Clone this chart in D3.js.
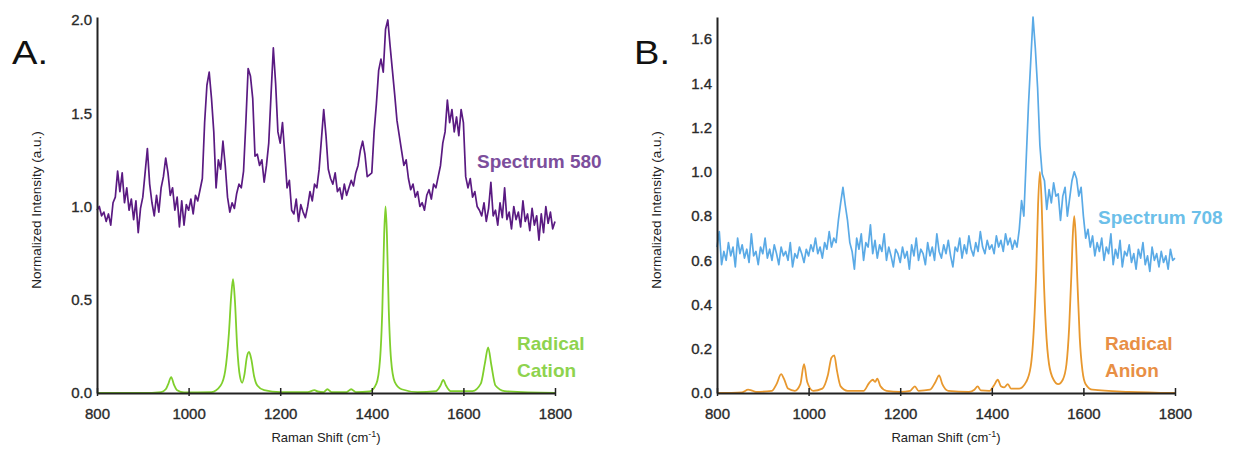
<!DOCTYPE html>
<html>
<head>
<meta charset="utf-8">
<script src="https://cdn.jsdelivr.net/npm/d3@7"></script>
<style>
body{margin:0;background:#fff;}
svg text{font-family:"Liberation Sans",Arial,sans-serif;}
</style>
</head>
<body>
<svg id="chart" width="1242" height="452"></svg>
<script>
// measured spectra, 800-1800 cm-1 every 5 cm-1
var spec580 = [
 0.98,1.00,0.95,0.97,0.92,0.96,0.90,1.02,1.05,1.19,1.08,1.18,1.02,1.10,0.98,1.04,0.93,1.03,0.86,0.99,
 1.05,1.18,1.31,1.12,1.02,0.95,1.06,0.97,1.10,1.16,1.26,1.18,1.06,1.10,0.98,1.05,0.89,1.03,0.90,1.01,
 0.98,1.04,0.96,1.06,1.03,1.09,1.15,1.45,1.65,1.72,1.58,1.40,1.10,1.25,1.20,1.35,1.22,1.05,0.97,1.02,
 0.99,1.07,1.12,1.10,1.19,1.45,1.74,1.70,1.58,1.27,1.28,1.22,1.25,1.13,1.22,1.34,1.60,1.85,1.66,1.40,
 1.34,1.45,1.28,1.10,1.14,0.98,0.96,1.04,0.92,1.01,0.97,0.94,1.00,1.08,1.03,1.12,1.10,1.20,1.36,1.52,
 1.38,1.20,1.15,1.12,1.18,1.08,1.10,1.04,1.12,1.06,1.10,1.14,1.11,1.18,1.22,1.30,1.35,1.28,1.16,1.17,
 1.18,1.40,1.55,1.73,1.79,1.72,1.95,2.00,1.86,1.73,1.60,1.46,1.38,1.30,1.22,1.25,1.15,1.09,1.12,1.05,
 1.08,1.00,1.02,0.98,1.06,1.09,1.04,1.12,1.10,1.16,1.22,1.34,1.40,1.57,1.45,1.52,1.40,1.48,1.38,1.52,
 1.45,1.16,1.10,1.15,1.05,1.08,1.00,0.98,0.95,1.02,0.92,0.99,1.13,0.95,0.98,0.90,1.02,0.94,1.10,0.93,
 0.97,0.88,1.00,0.93,0.97,0.89,1.03,0.92,0.96,0.87,0.99,0.90,0.95,0.82,0.96,0.86,1.00,0.91,0.97,0.88,0.92
];
var spec708 = [
 0.66,0.73,0.58,0.64,0.60,0.68,0.62,0.66,0.57,0.70,0.63,0.67,0.61,0.65,0.59,0.72,0.62,0.64,0.58,0.66,
 0.63,0.70,0.61,0.65,0.60,0.67,0.63,0.58,0.66,0.62,0.64,0.60,0.68,0.57,0.63,0.61,0.66,0.63,0.59,0.65,
 0.62,0.67,0.64,0.70,0.63,0.66,0.61,0.68,0.65,0.73,0.66,0.70,0.68,0.78,0.86,0.93,0.85,0.78,0.68,0.64,
 0.56,0.70,0.65,0.72,0.60,0.68,0.66,0.76,0.63,0.69,0.61,0.67,0.64,0.72,0.60,0.66,0.62,0.57,0.65,0.63,
 0.59,0.66,0.61,0.64,0.56,0.67,0.62,0.70,0.60,0.65,0.63,0.58,0.68,0.62,0.66,0.60,0.72,0.64,0.61,0.67,
 0.63,0.69,0.62,0.57,0.66,0.64,0.70,0.61,0.67,0.63,0.71,0.65,0.62,0.68,0.64,0.73,0.66,0.63,0.69,0.65,
 0.67,0.63,0.71,0.66,0.69,0.64,0.72,0.67,0.70,0.65,0.69,0.66,0.74,0.87,0.80,1.05,1.30,1.50,1.70,1.56,
 1.38,1.12,0.99,0.96,0.83,0.92,0.86,0.95,0.89,0.90,0.78,0.89,0.93,0.80,0.88,0.96,1.00,0.97,0.89,0.93,
 0.80,0.70,0.74,0.66,0.71,0.62,0.68,0.64,0.70,0.60,0.66,0.63,0.72,0.58,0.65,0.61,0.69,0.57,0.64,0.62,
 0.67,0.59,0.63,0.56,0.65,0.61,0.68,0.58,0.62,0.55,0.66,0.60,0.63,0.57,0.64,0.59,0.62,0.56,0.65,0.60,0.61
];
var specShift = d3.range(800, 1801, 5);

// computed reference spectra (read at peak / shoulder points)
var cationShift = [800,900,940,950,955,962,968,975,990,1050,1070,1080,1088,1093,1097,1101,1106,1112,1117,1122,1127,1132,1137,1143,1150,1165,1200,1260,1275,1282,1295,1303,1312,1345,1355,1365,1395,1410,1418,1423,1427,1430,1433,1437,1442,1450,1465,1500,1540,1550,1556,1562,1572,1620,1638,1647,1654,1661,1670,1690,1800];
var cationValue = [0,0,0.005,0.02,0.045,0.085,0.045,0.015,0.003,0.005,0.04,0.12,0.32,0.52,0.61,0.50,0.25,0.09,0.055,0.10,0.19,0.22,0.18,0.09,0.04,0.015,0.005,0.005,0.015,0.008,0.005,0.02,0.005,0.005,0.02,0.005,0.008,0.05,0.18,0.45,0.85,1.0,0.85,0.45,0.18,0.06,0.02,0.005,0.01,0.04,0.07,0.04,0.01,0.01,0.05,0.16,0.245,0.15,0.04,0.01,0];

var anionShift = [800,855,868,875,885,920,930,940,947,955,970,982,990,997,1010,1030,1042,1050,1056,1062,1070,1085,1120,1132,1140,1145,1150,1157,1170,1200,1222,1232,1240,1265,1277,1285,1292,1305,1350,1362,1369,1376,1395,1405,1413,1420,1427,1435,1442,1460,1475,1485,1492,1497,1501,1505,1509,1513,1518,1525,1535,1545,1555,1563,1569,1574,1577,1580,1583,1587,1592,1598,1605,1620,1700,1800];
var anionValue = [0,0.003,0.015,0.012,0.005,0.01,0.04,0.085,0.06,0.02,0.01,0.04,0.13,0.05,0.01,0.02,0.08,0.16,0.17,0.10,0.03,0.01,0.01,0.045,0.06,0.05,0.065,0.03,0.01,0.005,0.01,0.03,0.01,0.015,0.05,0.08,0.04,0.01,0.005,0.015,0.03,0.012,0.01,0.035,0.06,0.03,0.025,0.04,0.02,0.02,0.05,0.12,0.30,0.55,0.85,1.0,0.85,0.55,0.30,0.13,0.06,0.04,0.06,0.13,0.30,0.55,0.72,0.80,0.72,0.50,0.25,0.10,0.04,0.015,0.005,0];

var xTicks = [800,1000,1200,1400,1600,1800];
var yTicksA = [0.0,0.5,1.0,1.5,2.0];
var yTicksB = [0.0,0.2,0.4,0.6,0.8,1.0,1.2,1.4,1.6];

var svg = d3.select("#chart");
var FONT = "'Liberation Sans', Arial, sans-serif";

function zip(xs, ys){
  return xs.map(function(x,i){ return [x, ys[i]]; });
}

function drawPanel(p){
  var x = d3.scaleLinear().domain([800,1800]).range([p.left, p.left + 458]);
  var y = d3.scaleLinear().domain([0, p.ymax]).range([393, 17]);
  var g = svg.append("g");

  var line = d3.line()
    .x(function(d){ return x(d[0]); })
    .y(function(d){ return y(d[1]); });

  g.append("path")
    .datum(zip(specShift, p.spec))
    .attr("fill","none")
    .attr("stroke", p.specColor)
    .attr("stroke-width",1.7)
    .attr("stroke-linejoin","round")
    .attr("d", line);

  g.append("path")
    .datum(zip(p.refShift, p.refValue))
    .attr("fill","none")
    .attr("stroke", p.refColor)
    .attr("stroke-width",1.8)
    .attr("d", line.curve(d3.curveMonotoneX));

  // axes
  var xa = g.append("g")
    .attr("transform","translate(0,393)")
    .call(d3.axisBottom(x).tickValues(xTicks).tickFormat(d3.format("d")).tickSizeOuter(0).tickPadding(9));
  xa.selectAll(".tick line").attr("y1",-5).attr("y2",3).attr("stroke","#222").attr("stroke-width",1.5);
  var ya = g.append("g")
    .attr("transform","translate(" + x(800) + ",0)")
    .call(d3.axisLeft(y).tickValues(p.yTicks).tickFormat(d3.format(".1f")).tickSize(0).tickPadding(5));
  [xa, ya].forEach(function(a){
    a.attr("font-family", FONT);
    a.select(".domain").attr("stroke","#222").attr("stroke-width",2);
    a.selectAll("text").attr("fill","#2a2a2a").style("font-size","15px")
      .attr("stroke","#2a2a2a").attr("stroke-width",0.35);
  });

  g.append("text")
    .attr("x", x(1300)).attr("y", 442)
    .attr("text-anchor","middle")
    .style("font-size","13px").attr("fill","#222")
    .text("Raman Shift (cm")
    .append("tspan").attr("dy",-5).style("font-size","9px").text("-1")
    .select(function(){ return this.parentNode; })
    .append("tspan").attr("dy",5).text(")");

  g.append("text")
    .attr("transform","translate(" + (p.left - 56) + ",210) rotate(-90)")
    .attr("text-anchor","middle")
    .style("font-size","13.5px").attr("fill","#222")
    .text("Normalized Intensity (a.u.)");

  g.append("text")
    .attr("x", p.panelX).attr("y", 64)
    .style("font-size","33px").attr("fill","#111")
    .attr("textLength", 36).attr("lengthAdjust","spacingAndGlyphs")
    .text(p.panel);

  g.append("text")
    .attr("x", p.specLabelX).attr("y", p.specLabelY)
    .style("font-size","19px").style("font-weight","bold").attr("fill", p.specLabelColor)
    .text(p.specLabel);

  p.refLabel.forEach(function(t,i){
    g.append("text")
      .attr("x", p.refLabelX).attr("y", 350 + i*27)
      .style("font-size","19px").style("font-weight","bold").attr("fill", p.refLabelColor)
      .text(t);
  });
}

drawPanel({
  left: 97, ymax: 2.016, yTicks: yTicksA, panel: "A.", panelX: 12,
  spec: spec580, specColor: "#5a1a82", specLabel: "Spectrum 580", specLabelColor: "#7c4e9c",
  specLabelX: 477, specLabelY: 168,
  refShift: cationShift, refValue: cationValue, refColor: "#7fcf2c",
  refLabel: ["Radical","Cation"], refLabelColor: "#8ed34e", refLabelX: 517
});
drawPanel({
  left: 717, ymax: 1.70, yTicks: yTicksB, panel: "B.", panelX: 634,
  spec: spec708, specColor: "#5aaae6", specLabel: "Spectrum 708", specLabelColor: "#6cbfe9",
  specLabelX: 1098, specLabelY: 224,
  refShift: anionShift, refValue: anionValue, refColor: "#e8982e",
  refLabel: ["Radical","Anion"], refLabelColor: "#e88f45", refLabelX: 1105
});
</script>
</body>
</html>
